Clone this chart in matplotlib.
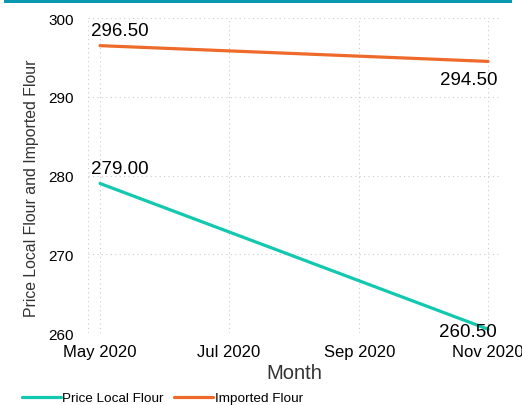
import numpy as np
import matplotlib.pyplot as plt
import matplotlib.dates as mdates
from datetime import datetime, timedelta

plt.rcParams['font.family'] = ['Liberation Sans', 'DejaVu Sans']

# data
months = [datetime(2020, 5, 1), datetime(2020, 11, 1)]
local_flour = [279.00, 260.50]
imported_flour = [296.50, 294.50]

teal = '#12C8AE'
orange = '#EE6A2A'

fig = plt.figure(figsize=(5.22, 4.06), dpi=100)
ax = fig.add_axes([0.1686, 0.177, 0.7894, 0.776])

ax.plot(months, local_flour, color=teal, lw=2.3, label='Price Local Flour', solid_capstyle='round')
ax.plot(months, imported_flour, color=orange, lw=2.3, label='Imported Flour', solid_capstyle='round')

# value labels
ax.annotate(f'{local_flour[0]:.2f}', (months[0], local_flour[0]), xytext=(-6.5, 5),
            textcoords='offset points', fontsize=13.5, ha='left', va='bottom')
ax.annotate(f'{local_flour[1]:.2f}', (months[1], local_flour[1]), xytext=(6, -1.5),
            textcoords='offset points', fontsize=13.5, ha='right', va='center')
ax.annotate(f'{imported_flour[0]:.2f}', (months[0], imported_flour[0]), xytext=(-6.5, 5),
            textcoords='offset points', fontsize=13.5, ha='left', va='bottom')
ax.annotate(f'{imported_flour[1]:.2f}', (months[1], imported_flour[1]), xytext=(6.5, -7),
            textcoords='offset points', fontsize=13.5, ha='right', va='top')

ax.set_xlim(months[0] - timedelta(days=5.7), months[1] + timedelta(days=5.7))
ax.set_ylim(260, 300)
ax.set_yticks([260, 270, 280, 290, 300])
ax.xaxis.set_major_locator(mdates.MonthLocator(bymonth=[5, 7, 9, 11]))
ax.xaxis.set_major_formatter(mdates.DateFormatter('%b %Y'))

for s in ax.spines.values():
    s.set_visible(False)
ax.tick_params(axis='x', length=0, labelsize=12, pad=8)
ax.tick_params(axis='y', length=0, labelsize=11, pad=10)
ax.grid(True, color='#cccccc', linestyle=(0, (1, 3)), lw=0.8)
ax.axvline(ax.get_xlim()[0], color='#cccccc', linestyle=(0, (1, 3)), lw=0.8)
ax.axvline(ax.get_xlim()[1], color='#cccccc', linestyle=(0, (1, 3)), lw=0.8)

ax.set_xlabel('Month', fontsize=14.5, color='#333333', labelpad=2.5)
ax.set_ylabel('Price Local Flour and Imported Flour', fontsize=11.4, color='#333333')
ax.yaxis.set_label_coords(-0.12, 0.463)

fig.legend(loc='lower left', bbox_to_anchor=(0.018, -0.028), ncol=2, frameon=False,
           fontsize=9.7, handlelength=2.9, handletextpad=0.1, columnspacing=0.8)

# top banner
fig.add_artist(plt.Rectangle((0.008, 0.99), 0.972, 0.012, transform=fig.transFigure,
                             color='#0899B0', lw=0))

fig.savefig('out.png', dpi=100)
